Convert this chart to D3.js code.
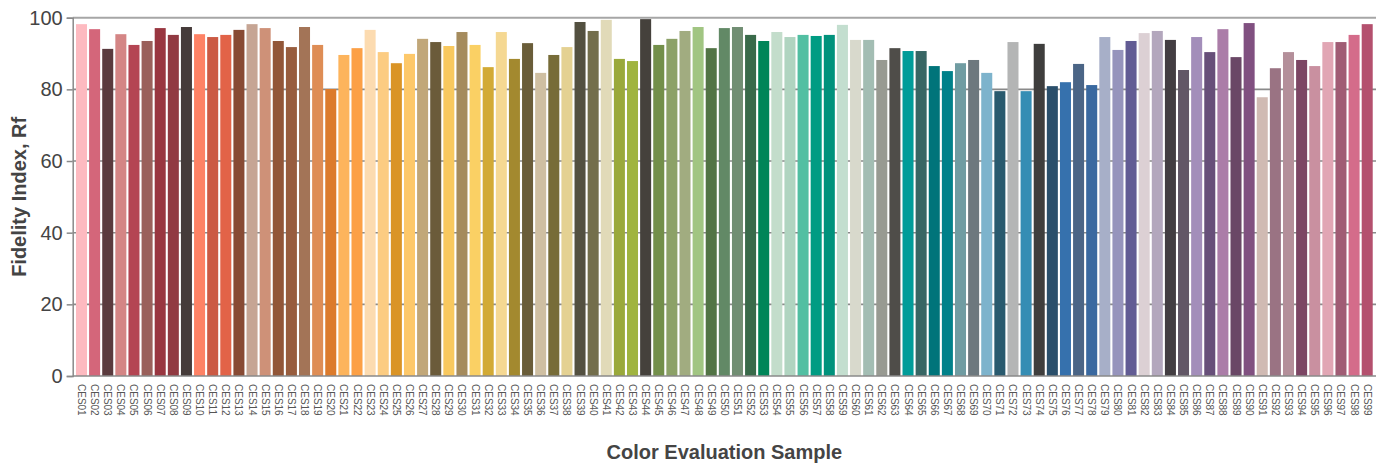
<!DOCTYPE html>
<html><head><meta charset="utf-8">
<script src="https://cdn.jsdelivr.net/npm/d3@7"></script>
<style>body{margin:0;background:#fff;} svg{display:block;font-family:"Liberation Sans",Arial,sans-serif;}</style>
</head><body>
<svg id="c" width="1378" height="464"></svg>
<script>
const categories = d3.range(1,100).map(i => "CES" + String(i).padStart(2,"0"));
const values = [98.2,96.8,91.3,95.4,92.4,93.5,97.1,95.2,97.4,95.4,
94.6,95.2,96.6,98.2,97.1,93.5,91.8,97.4,92.4,80.1,
89.6,91.5,96.6,90.4,87.3,89.9,94.1,93.2,92.1,96.0,
92.4,86.2,96.0,88.5,92.9,84.6,89.6,91.8,98.8,96.3,
99.4,88.5,87.9,99.6,92.4,94.1,96.3,97.4,91.5,97.1,
97.4,95.2,93.5,96.0,94.6,95.2,94.9,95.2,98.0,93.8,
93.8,88.2,91.5,90.7,90.7,86.5,85.1,87.3,88.2,84.6,
79.5,93.2,79.5,92.7,80.9,82.0,87.1,81.2,94.6,91.0,
93.5,95.7,96.3,93.8,85.4,94.6,90.4,96.8,89.0,98.5,
77.8,85.9,90.4,88.2,86.5,93.2,93.2,95.2,98.2];
const colors = ["#FDBAC0","#D4667A","#5B3A3E","#D48585","#B44553","#9A605B","#993640","#913A42","#453B3A","#FE8265",
"#CB5A44","#E26348","#884A34","#C6A594","#CE9178","#925638","#985D3E","#A37457","#DE8D55","#DC7B2C",
"#FDB45C","#FCA046","#FCDBB0","#FCCC82","#DA9426","#FDC86A","#C1A779","#6B5B3A","#F8C85E","#A58B5D",
"#FAD064","#D2AA35","#F5D892","#A3892F","#6A5D39","#CFBFA2","#776C38","#E4D192","#535040","#736E4C",
"#E1DAB8","#9AA93B","#A0B440","#45413C","#738F4A","#8CA167","#A1AC80","#A1C582","#527445","#628966",
"#718E73","#396A4A","#008558","#C3DDCB","#B0D4C0","#52BFA2","#009C83","#00927C","#C3DECF","#D8D9CC",
"#A3BDB3","#989A92","#4F4D49","#009C99","#386664","#00747A","#00818A","#709CA2","#6D787E","#7DB3CC",
"#295A6E","#B4B5B5","#358DB4","#3F3E3D","#2A4F6B","#3671AD","#4B6586","#3A69A0","#A7AFC8","#9694BC",
"#625C94","#DCD0D4","#B3A7BD","#433E42","#625766","#A38EBA","#674F79","#AB7DA8","#6A4766","#805080",
"#D0BAB3","#9A7383","#B48F9A","#7C4664","#C990A0","#E1A6B4","#A05C74","#D46C8A","#B4506E"];
const yTicks = [0,20,40,60,80,100];

const svg = d3.select("#c");
const m = {l:72.7, r:1376, t:17.7, b:376};
const x = d3.scaleBand().domain(categories).range([m.l, m.r]).paddingInner(0.16).paddingOuter(0.25);
const y = d3.scaleLinear().domain([0,100]).range([m.b, m.t]);

// gridlines
svg.append("g").selectAll("line").data(yTicks.filter(d=>d>0)).join("line")
  .attr("x1", m.l).attr("x2", m.r).attr("y1", d=>y(d)).attr("y2", d=>y(d))
  .attr("stroke", d => d===100 ? "#a6a6a6" : "#8a8a8a")
  .attr("stroke-width", d => d===100 ? 2 : 1.6);

// bars
svg.append("g").selectAll("rect").data(categories).join("rect")
  .attr("x", d=>x(d)).attr("width", x.bandwidth())
  .attr("y", (d,i)=>y(values[i])).attr("height", (d,i)=>y(0)-y(values[i]))
  .attr("fill", (d,i)=>colors[i]);

// y axis
const ya = svg.append("g").attr("transform", `translate(${m.l},0)`)
  .call(d3.axisLeft(y).tickValues(yTicks).tickSize(6).tickPadding(4));
ya.select(".domain").attr("stroke","#8a8a8a").attr("stroke-width",1.5);
ya.selectAll(".tick line").attr("stroke","#8a8a8a").attr("stroke-width",1.5);
ya.selectAll("text").attr("font-size",20).attr("fill","#444").attr("font-family","Liberation Sans, Arial, sans-serif");

// x axis
svg.append("line").attr("x1",m.l).attr("x2",m.r).attr("y1",m.b).attr("y2",m.b)
  .attr("stroke","#8a8a8a").attr("stroke-width",1.5);
const xa = svg.append("g").attr("transform", `translate(0,${m.b})`)
  .call(d3.axisBottom(x).tickSize(0).tickPadding(0));
xa.select(".domain").remove();
xa.selectAll("text").attr("font-size",10).attr("fill","#555")
  .attr("font-family","Liberation Sans, Arial, sans-serif")
  .attr("text-anchor","start").attr("dy",null).attr("y",0)
  .attr("transform","translate(-3.5,8) rotate(90)");

// titles
svg.append("text").attr("x", (m.l+m.r)/2 - 0).attr("y", 459).attr("text-anchor","middle")
  .attr("font-size",20).attr("font-weight","bold").attr("fill","#444").text("Color Evaluation Sample");
svg.append("text").attr("transform", `translate(26,${(m.t+m.b)/2}) rotate(-90)`).attr("text-anchor","middle")
  .attr("font-size",20).attr("font-weight","bold").attr("fill","#444").text("Fidelity Index, Rf");
</script>
</body></html>
